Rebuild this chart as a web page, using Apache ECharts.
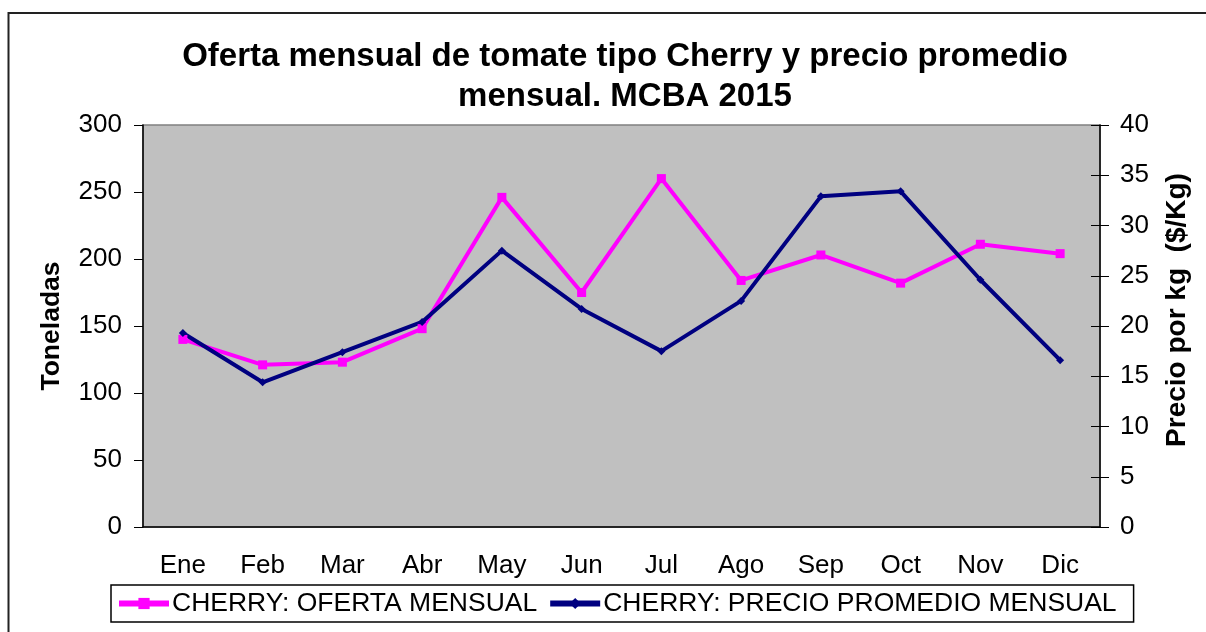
<!DOCTYPE html>
<html>
<head>
<meta charset="utf-8">
<script src="https://cdn.jsdelivr.net/npm/echarts@6/dist/echarts.min.js"></script>
<style>
  html, body { margin: 0; padding: 0; background: #fff; }
  #chart { width: 1206px; height: 632px; }
</style>
</head>
<body>
<div id="chart"></div>
<script>
// datos
const meses = ['Ene', 'Feb', 'Mar', 'Abr', 'May', 'Jun', 'Jul', 'Ago', 'Sep', 'Oct', 'Nov', 'Dic'];
const ofertaMensual = [140, 121, 123, 148, 246, 175, 260, 184, 203, 182, 211, 204];
const precioPromedio = [19.3, 14.4, 17.4, 20.4, 27.5, 21.7, 17.5, 22.5, 32.9, 33.4, 24.6, 16.6];

const fuente = '"Liberation Sans", Arial, sans-serif';

const chart = echarts.init(document.getElementById('chart'));

const option = {
  backgroundColor: '#fff',
  animation: false,
  title: {
    text: 'Oferta mensual de tomate tipo Cherry y precio promedio\nmensual. MCBA 2015',
    left: 620,
    top: 32,
    textAlign: 'center',
    textStyle: {
      fontFamily: fuente,
      fontSize: 33,
      fontWeight: 'bold',
      color: '#000',
      lineHeight: 40
    }
  },
  grid: {
    left: 143,
    right: 106,
    top: 125,
    bottom: 105,
    show: true,
    backgroundColor: '#C0C0C0',
    borderColor: '#808080',
    borderWidth: 1.5
  },
  legend: {
    left: 111,
    top: 585,
    padding: [5, 17, 5, 5],
    itemGap: 10,
    itemWidth: 50,
    itemHeight: 14,
    borderColor: '#000',
    borderWidth: 1.5,
    lineStyle: { width: 6 },
    textStyle: { fontFamily: fuente, fontSize: 26.5, color: '#000', padding: [0, 0, 0, -2] },
    data: ['CHERRY: OFERTA MENSUAL', 'CHERRY: PRECIO PROMEDIO MENSUAL']
  },
  xAxis: [
    {
      type: 'category',
      data: meses,
      boundaryGap: true,
      axisLine: { lineStyle: { color: '#000', width: 1.5 } },
      axisTick: { length: 8, lineStyle: { color: '#000' } },
      axisLabel: { margin: 26, fontFamily: fuente, fontSize: 26, color: '#000' }
    },
    {
      type: 'category',
      data: meses,
      position: 'bottom',
      boundaryGap: true,
      axisLine: { show: false },
      axisTick: { inside: true, length: 8, lineStyle: { color: '#000' } },
      axisLabel: { show: false }
    }
  ],
  yAxis: [
    {
      type: 'value',
      min: 0,
      max: 300,
      interval: 50,
      name: 'Toneladas',
      nameLocation: 'middle',
      nameRotate: 90,
      nameGap: 78,
      nameTextStyle: { fontFamily: fuente, fontSize: 26.5, fontWeight: 'bold', color: '#000' },
      axisLine: { show: true, lineStyle: { color: '#000', width: 1.5 } },
      axisTick: { show: true, length: 9, lineStyle: { color: '#000' } },
      axisLabel: { margin: 21, fontFamily: fuente, fontSize: 26, color: '#000' },
      splitLine: { show: false }
    },
    {
      type: 'value',
      position: 'right',
      min: 0,
      max: 40,
      interval: 5,
      axisLine: { show: true, lineStyle: { color: '#000', width: 1.5 } },
      axisTick: { show: true, length: 9, lineStyle: { color: '#000' } },
      axisLabel: { margin: 20, fontFamily: fuente, fontSize: 26, color: '#000' },
      splitLine: { show: false }
    },
    {
      type: 'value',
      position: 'right',
      min: 0,
      max: 40,
      interval: 5,
      axisLine: { show: false },
      axisTick: { show: true, inside: true, length: 9, lineStyle: { color: '#000' } },
      axisLabel: { show: false },
      splitLine: { show: false }
    }
  ],
  series: [
    {
      name: 'CHERRY: OFERTA MENSUAL',
      type: 'line',
      yAxisIndex: 0,
      data: ofertaMensual,
      symbol: 'rect',
      symbolSize: 9,
      itemStyle: { color: '#FF00FF' },
      lineStyle: { color: '#FF00FF', width: 4 }
    },
    {
      name: 'CHERRY: PRECIO PROMEDIO MENSUAL',
      type: 'line',
      yAxisIndex: 1,
      data: precioPromedio,
      symbol: 'diamond',
      symbolSize: 8,
      itemStyle: { color: '#000080' },
      lineStyle: { color: '#000080', width: 4 }
    }
  ],
  graphic: [
    {
      type: 'polyline',
      shape: { points: [[8.5, 632], [8.5, 13], [1206, 13]] },
      style: { stroke: '#222', lineWidth: 2, fill: null }
    },
    {
      // titulo del eje derecho
      type: 'text',
      x: 1177,
      y: 310,
      rotation: Math.PI / 2,
      style: {
        text: 'Precio por kg  ($/Kg)',
        font: 'bold 28px ' + fuente,
        fill: '#000',
        align: 'center',
        verticalAlign: 'middle'
      }
    }
  ]
};

chart.setOption(option);
</script>
</body>
</html>
